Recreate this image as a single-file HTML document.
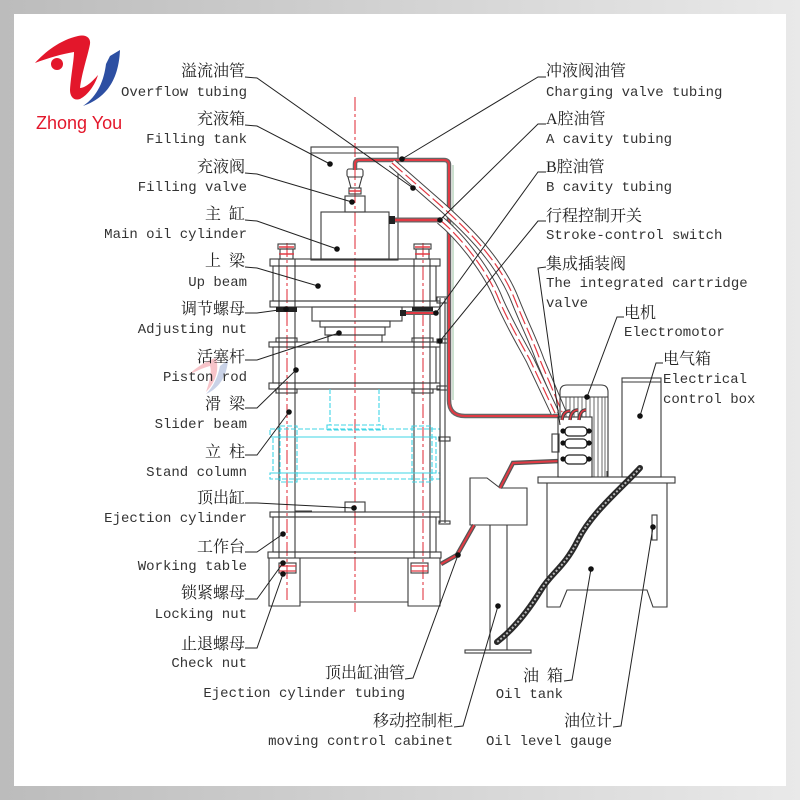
<!DOCTYPE html>
<html><head><meta charset="utf-8"><style>
html,body{margin:0;padding:0;width:800px;height:800px;overflow:hidden;background:linear-gradient(to right,#bcbcbc,#e9e9e9);}
svg{display:block}
.cn{font-family:"Liberation Serif","Noto Serif CJK SC","Noto Sans CJK SC",serif;font-size:16px;fill:#222}
.en{font-family:"Liberation Mono",monospace;font-size:14px;fill:#333}
.ld{fill:none;stroke:#222;stroke-width:1}
.s{fill:none;stroke:#3a3a3a;stroke-width:1.1}
.rd{fill:none;stroke:#e23a44;stroke-width:1.1;stroke-dasharray:14 3 3 3}
.cy{fill:none;stroke:#3fd6e6;stroke-width:1.1;stroke-dasharray:5 2}
</style></head><body>
<svg width="800" height="800" viewBox="0 0 800 800" xmlns="http://www.w3.org/2000/svg">
<rect x="14" y="14" width="772" height="772" fill="#fff"/>

<!-- logo -->
<path d="M35,63 C45,52 60,40 78,36 C86,34 91,38 90,44 C88,55 82,72 80,88 C85,88 92,82 98,75 C95,85 88,95 80,99 C74,101 70,97 70,90 C71,75 74,60 74,52 C62,54 48,58 35,63 Z" fill="#e3172b"/>
<circle cx="57" cy="64" r="6" fill="#e3172b"/>
<path d="M120,50 C119,72 112,96 83,106 C98,96 104,80 106,64 L110,56 Z" fill="#2d4fa2"/>
<text x="36" y="129" font-family="Liberation Sans,sans-serif" font-size="18" fill="#e3172b">Zhong You</text>
<!-- faint watermark -->
<g opacity="0.25">
<path d="M188,375 C198,366 208,360 216,358 C220,372 214,384 206,392 C210,380 212,372 210,366 C202,368 195,372 188,375Z" fill="#e3172b"/>
<path d="M228,360 C227,375 220,388 206,394 C214,386 218,376 220,366Z" fill="#2d4fa2"/>
</g>

<!-- ===== press ===== -->
<!-- centerlines -->
<line class="rd" x1="355" y1="97" x2="355" y2="612"/>
<line class="rd" x1="287" y1="243" x2="287" y2="600"/>
<line class="rd" x1="423" y1="243" x2="423" y2="600"/>

<!-- filling tank -->
<rect class="s" x="311" y="147" width="87" height="113"/>
<line class="s" x1="311" y1="153" x2="398" y2="153"/>
<!-- filling valve -->
<rect class="s" x="347" y="169" width="16" height="8" rx="2"/>
<path class="s" d="M348,177 L362,177 L359,188 L351,188 Z"/>
<rect class="s" x="349" y="188" width="12" height="6"/>
<line x1="349" y1="191" x2="361" y2="191" stroke="#e23a44" stroke-width="1.5"/>
<rect class="s" x="345" y="196" width="20" height="16"/>
<!-- main cylinder -->
<rect class="s" x="321" y="212" width="68" height="47"/>

<!-- columns -->
<g class="s">
<line x1="279" y1="259" x2="279" y2="558"/><line x1="295" y1="259" x2="295" y2="558"/>
<line x1="414" y1="259" x2="414" y2="558"/><line x1="430" y1="259" x2="430" y2="558"/>
</g>
<!-- top bolts -->
<g class="s">
<rect x="278" y="244" width="17" height="5"/><rect x="280" y="249" width="13" height="10"/>
<rect x="414" y="244" width="17" height="5"/><rect x="416" y="249" width="13" height="10"/>
</g>
<g stroke="#e23a44" stroke-width="1.5">
<line x1="279" y1="247" x2="294" y2="247"/><line x1="279" y1="254" x2="294" y2="254"/>
<line x1="415" y1="247" x2="430" y2="247"/><line x1="415" y1="254" x2="430" y2="254"/>
</g>

<!-- up beam -->
<g class="s">
<rect x="270" y="259" width="170" height="7"/>
<rect x="273" y="266" width="163" height="35"/>
<rect x="270" y="301" width="170" height="6"/>
</g>
<!-- adjusting nuts -->
<rect x="276" y="307" width="21" height="5" fill="#222"/>
<rect x="412" y="307" width="21" height="5" fill="#222"/>
<!-- piston -->
<g class="s">
<rect x="312" y="307" width="90" height="14"/>
<rect x="320" y="321" width="70" height="6"/>
<rect x="325" y="327" width="60" height="8"/>
<rect x="328" y="335" width="54" height="7"/>
</g>
<!-- B pipe small -->
<line x1="403" y1="313" x2="438" y2="313" stroke="#666" stroke-width="4"/>
<line x1="403" y1="313" x2="438" y2="313" stroke="#e23a44" stroke-width="2"/>
<rect x="400" y="310" width="6" height="6" fill="#222"/>
<!-- lower nuts -->
<g class="s">
<rect x="276" y="338" width="21" height="4"/><rect x="412" y="338" width="21" height="4"/>
</g>
<!-- slider beam -->
<g class="s">
<rect x="269" y="342" width="171" height="5"/>
<rect x="273" y="347" width="163" height="36"/>
<rect x="269" y="383" width="171" height="6"/>
<rect x="276" y="389" width="21" height="4"/><rect x="412" y="389" width="21" height="4"/>
</g>
<!-- cyan ghost -->
<g class="cy">
<line x1="330" y1="389" x2="330" y2="425"/><line x1="379" y1="389" x2="379" y2="425"/>
<rect x="327" y="425" width="56" height="5"/>
<rect x="270" y="429" width="170" height="8"/>
<rect x="273" y="437" width="163" height="36"/>
<rect x="270" y="473" width="170" height="6"/>
<rect x="280" y="426" width="17" height="56"/>
<rect x="412" y="426" width="20" height="56"/>
</g>
<!-- ejection cylinder -->
<rect class="s" x="345" y="502" width="20" height="10"/>
<line class="s" x1="295" y1="511" x2="312" y2="511"/>
<!-- working table -->
<g class="s">
<rect x="270" y="512" width="170" height="5"/>
<rect x="273" y="517" width="163" height="35"/>
<rect x="268" y="552" width="173" height="6"/>
<path d="M269,558 V606 H300 V602 H408 V606 H440 V558"/>
<line x1="300" y1="558" x2="300" y2="602"/><line x1="408" y1="558" x2="408" y2="602"/>
<rect x="279" y="563" width="17" height="10"/><rect x="411" y="563" width="17" height="10"/>
</g>
<g stroke="#e23a44" stroke-width="1.3">
<line x1="279" y1="566" x2="296" y2="566"/><line x1="279" y1="571" x2="296" y2="571"/>
<line x1="411" y1="566" x2="428" y2="566"/><line x1="411" y1="571" x2="428" y2="571"/>
</g>

<!-- stroke switch rod -->
<g class="s">
<line x1="440" y1="298" x2="440" y2="523"/><line x1="445" y1="298" x2="445" y2="523"/>
<rect x="437" y="297" width="11" height="6"/>
<rect x="437" y="339" width="11" height="4"/>
<rect x="437" y="386" width="11" height="4"/>
<rect x="439" y="437" width="11" height="4"/>
<rect x="439" y="521" width="11" height="3"/>
</g>

<!-- charging pipe -->
<path d="M355,170 V164 Q355,160 359,160 H444 Q449,160 449,165 V400 Q449,416 465,416 H558" fill="none" stroke="#666" stroke-width="4.5"/>
<path d="M355,170 V164 Q355,160 359,160 H444 Q449,160 449,165 V400 Q449,416 465,416 H558" fill="none" stroke="#e23a44" stroke-width="2"/>
<line x1="453" y1="165" x2="453" y2="400" stroke="#7fb08a" stroke-width="0.8"/>
<!-- A cavity pipe -->
<line x1="389" y1="220" x2="440" y2="220" stroke="#666" stroke-width="5"/>
<line x1="389" y1="220" x2="440" y2="220" stroke="#e23a44" stroke-width="2.5"/>
<rect x="389" y="216" width="6" height="8" fill="#222"/>

<!-- diagonal tubes -->
<path d="M392,163 L440,205 C470,232 500,262 515,300 C525,325 535,345 540,360 L562,412" fill="none" stroke="#444" stroke-width="9"/>
<path d="M392,163 L440,205 C470,232 500,262 515,300 C525,325 535,345 540,360 L562,412" fill="none" stroke="#fff" stroke-width="7"/>
<path d="M392,163 L440,205 C470,232 500,262 515,300 C525,325 535,345 540,360 L562,412" fill="none" stroke="#e23a44" stroke-width="1.2" stroke-dasharray="14 4"/>
<path d="M440,220 C462,238 488,272 499,300 C510,325 522,345 530,360 L555,413" fill="none" stroke="#444" stroke-width="9"/>
<path d="M440,220 C462,238 488,272 499,300 C510,325 522,345 530,360 L555,413" fill="none" stroke="#fff" stroke-width="7"/>
<path d="M440,220 C462,238 488,272 499,300 C510,325 522,345 530,360 L555,413" fill="none" stroke="#e23a44" stroke-width="1.2" stroke-dasharray="14 4"/>

<!-- ===== hydraulic station ===== -->
<!-- moving control cabinet -->
<path class="s" d="M470,478 H487 L500,488 H527 V525 H470 Z"/>
<line class="s" x1="490" y1="525" x2="490" y2="650"/>
<line class="s" x1="507" y1="525" x2="507" y2="650"/>
<rect class="s" x="465" y="650" width="66" height="3"/>
<!-- red pipes -->
<path d="M500,488 L513,463 L560,461" fill="none" stroke="#555" stroke-width="4.5"/>
<path d="M500,488 L513,463 L560,461" fill="none" stroke="#e23a44" stroke-width="2"/>
<path d="M474,525 L457,555 L441,564" fill="none" stroke="#555" stroke-width="4.5"/>
<path d="M474,525 L457,555 L441,564" fill="none" stroke="#e23a44" stroke-width="2"/>

<!-- tank -->
<rect class="s" x="538" y="477" width="137" height="6"/>
<path class="s" d="M547,483 V607 H560 L567,590 H647 L653,607 H667 V483"/>
<rect class="s" x="652" y="515" width="5" height="25"/>
<!-- motor -->
<path class="s" d="M560,477 V392 Q560,385 567,385 H601 Q608,385 608,392 V477"/>
<line class="s" x1="560" y1="397" x2="608" y2="397"/>
<g stroke="#444" stroke-width="0.8">
<line x1="566" y1="397" x2="566" y2="477"/><line x1="570" y1="397" x2="570" y2="477"/><line x1="574" y1="397" x2="574" y2="477"/>
<line x1="578" y1="397" x2="578" y2="477"/><line x1="582" y1="397" x2="582" y2="477"/><line x1="586" y1="397" x2="586" y2="477"/>
<line x1="590" y1="397" x2="590" y2="477"/><line x1="594" y1="397" x2="594" y2="477"/><line x1="598" y1="397" x2="598" y2="477"/>
<line x1="602" y1="397" x2="602" y2="477"/><line x1="605" y1="397" x2="605" y2="477"/>
</g>
<!-- valve block -->
<rect x="558" y="417" width="34" height="60" fill="#fff" stroke="#333" stroke-width="1.1"/>
<rect class="s" x="552" y="434" width="7" height="18"/>
<g fill="#fff" stroke="#222" stroke-width="1.3">
<rect x="565" y="427" width="22" height="9" rx="4"/>
<rect x="565" y="439" width="22" height="9" rx="4"/>
<rect x="565" y="455" width="22" height="9" rx="4"/>
</g>
<g fill="#111">
<circle cx="563" cy="431" r="2.6"/><circle cx="589" cy="431" r="2.6"/>
<circle cx="563" cy="443" r="2.6"/><circle cx="589" cy="443" r="2.6"/>
<circle cx="563" cy="459" r="2.6"/><circle cx="589" cy="459" r="2.6"/>
</g>
<g fill="none" stroke="#444" stroke-width="3.5">
<path d="M562,420 Q563,411 570,411"/><path d="M570,420 Q571,410 578,410"/><path d="M579,420 Q580,410 586,410"/>
</g>
<g fill="none" stroke="#e23a44" stroke-width="1.5">
<path d="M562,420 Q563,411 570,411"/><path d="M570,420 Q571,410 578,410"/><path d="M579,420 Q580,410 586,410"/>
</g>
<line class="s" x1="607" y1="471" x2="607" y2="477"/>
<!-- electrical box -->
<rect class="s" x="622" y="378" width="39" height="99"/>
<line class="s" x1="622" y1="382" x2="661" y2="382"/>
<!-- chain -->
<path d="M640,468 C622,488 592,512 578,540 S552,572 541,590 S515,628 497,642" fill="none" stroke="#2a2a2a" stroke-width="6" stroke-linecap="round"/>
<path d="M640,468 C622,488 592,512 578,540 S552,572 541,590 S515,628 497,642" fill="none" stroke="#bbb" stroke-width="2" stroke-dasharray="2 2"/>

<!-- ===== leader lines ===== -->
<g class="ld">
<polyline points="245,77 257,78 413,188"/>
<polyline points="245,125 257,126 330,164"/>
<polyline points="245,173 257,174 352,202"/>
<polyline points="245,220 257,221 337,249"/>
<polyline points="245,267 257,268 318,286"/>
<polyline points="245,313 257,313 286,309"/>
<polyline points="245,360 257,360 339,333"/>
<polyline points="245,408 257,408 296,370"/>
<polyline points="245,455 257,455 289,412"/>
<polyline points="245,503 257,503 354,508"/>
<polyline points="245,552 257,552 283,534"/>
<polyline points="245,599 257,599 283,563"/>
<polyline points="245,648 257,648 283,574"/>
<polyline points="405,679 413,678 458,555"/>
<polyline points="454,727 463,726 498,606"/>
<polyline points="564,681 572,680 591,569"/>
<polyline points="613,727 621,726 653,527"/>
<polyline points="546,77 538,77 402,159"/>
<polyline points="546,124 538,124 440,220"/>
<polyline points="546,172 538,172 436,313"/>
<polyline points="546,221 538,221 440,341"/>
<polyline points="546,267 538,268 560,425"/>
<polyline points="624,317 617,317 587,397"/>
<polyline points="663,363 656,363 640,416"/>
</g>
<g fill="#111">
<circle cx="413" cy="188" r="2.8"/><circle cx="330" cy="164" r="2.8"/><circle cx="352" cy="202" r="2.8"/>
<circle cx="337" cy="249" r="2.8"/><circle cx="318" cy="286" r="2.8"/><circle cx="286" cy="309" r="2.8"/>
<circle cx="339" cy="333" r="2.8"/><circle cx="296" cy="370" r="2.8"/><circle cx="289" cy="412" r="2.8"/>
<circle cx="354" cy="508" r="2.8"/><circle cx="283" cy="534" r="2.8"/><circle cx="283" cy="563" r="2.8"/>
<circle cx="283" cy="574" r="2.8"/><circle cx="458" cy="555" r="2.8"/><circle cx="498" cy="606" r="2.8"/>
<circle cx="591" cy="569" r="2.8"/><circle cx="653" cy="527" r="2.8"/><circle cx="402" cy="159" r="2.8"/>
<circle cx="440" cy="220" r="2.8"/><circle cx="436" cy="313" r="2.8"/><circle cx="440" cy="341" r="2.8"/>
<circle cx="587" cy="397" r="2.8"/><circle cx="640" cy="416" r="2.8"/>
</g>

<!-- ===== labels left ===== -->
<g text-anchor="end">
<text class="cn" x="245" y="76">溢流油管</text><text class="en" x="247" y="96">Overflow tubing</text>
<text class="cn" x="245" y="124">充液箱</text><text class="en" x="247" y="143">Filling tank</text>
<text class="cn" x="245" y="172">充液阀</text><text class="en" x="247" y="191">Filling valve</text>
<text class="cn" x="245" y="219">主&#8194;缸</text><text class="en" x="247" y="238">Main oil cylinder</text>
<text class="cn" x="245" y="266">上&#8194;梁</text><text class="en" x="247" y="286">Up beam</text>
<text class="cn" x="245" y="314">调节螺母</text><text class="en" x="247" y="333">Adjusting nut</text>
<text class="cn" x="245" y="362">活塞杆</text><text class="en" x="247" y="381">Piston rod</text>
<text class="cn" x="245" y="409">滑&#8194;梁</text><text class="en" x="247" y="428">Slider beam</text>
<text class="cn" x="245" y="457">立&#8194;柱</text><text class="en" x="247" y="476">Stand column</text>
<text class="cn" x="245" y="503">顶出缸</text><text class="en" x="247" y="522">Ejection cylinder</text>
<text class="cn" x="245" y="552">工作台</text><text class="en" x="247" y="570">Working table</text>
<text class="cn" x="245" y="598">锁紧螺母</text><text class="en" x="247" y="618">Locking nut</text>
<text class="cn" x="245" y="649">止退螺母</text><text class="en" x="247" y="667">Check nut</text>
<text class="cn" x="405" y="678">顶出缸油管</text><text class="en" x="405" y="697">Ejection cylinder tubing</text>
<text class="cn" x="453" y="726">移动控制柜</text><text class="en" x="453" y="745">moving control cabinet</text>
<text class="cn" x="563" y="681">油&#8194;箱</text><text class="en" x="563" y="698">Oil tank</text>
<text class="cn" x="612" y="726">油位计</text><text class="en" x="612" y="745">Oil level gauge</text>
</g>
<!-- labels right -->
<text class="cn" x="546" y="76">冲液阀油管</text><text class="en" x="546" y="96">Charging valve tubing</text>
<text class="cn" x="546" y="124">A腔油管</text><text class="en" x="546" y="143">A cavity tubing</text>
<text class="cn" x="546" y="172">B腔油管</text><text class="en" x="546" y="191">B cavity tubing</text>
<text class="cn" x="546" y="221">行程控制开关</text><text class="en" x="546" y="239">Stroke-control switch</text>
<text class="cn" x="546" y="269">集成插装阀</text><text class="en" x="546" y="287">The integrated cartridge</text>
<text class="en" x="546" y="307">valve</text>
<text class="cn" x="624" y="318">电机</text><text class="en" x="624" y="336">Electromotor</text>
<text class="cn" x="663" y="364">电气箱</text><text class="en" x="663" y="383">Electrical</text>
<text class="en" x="663" y="403">control box</text>
</svg>
</body></html>
